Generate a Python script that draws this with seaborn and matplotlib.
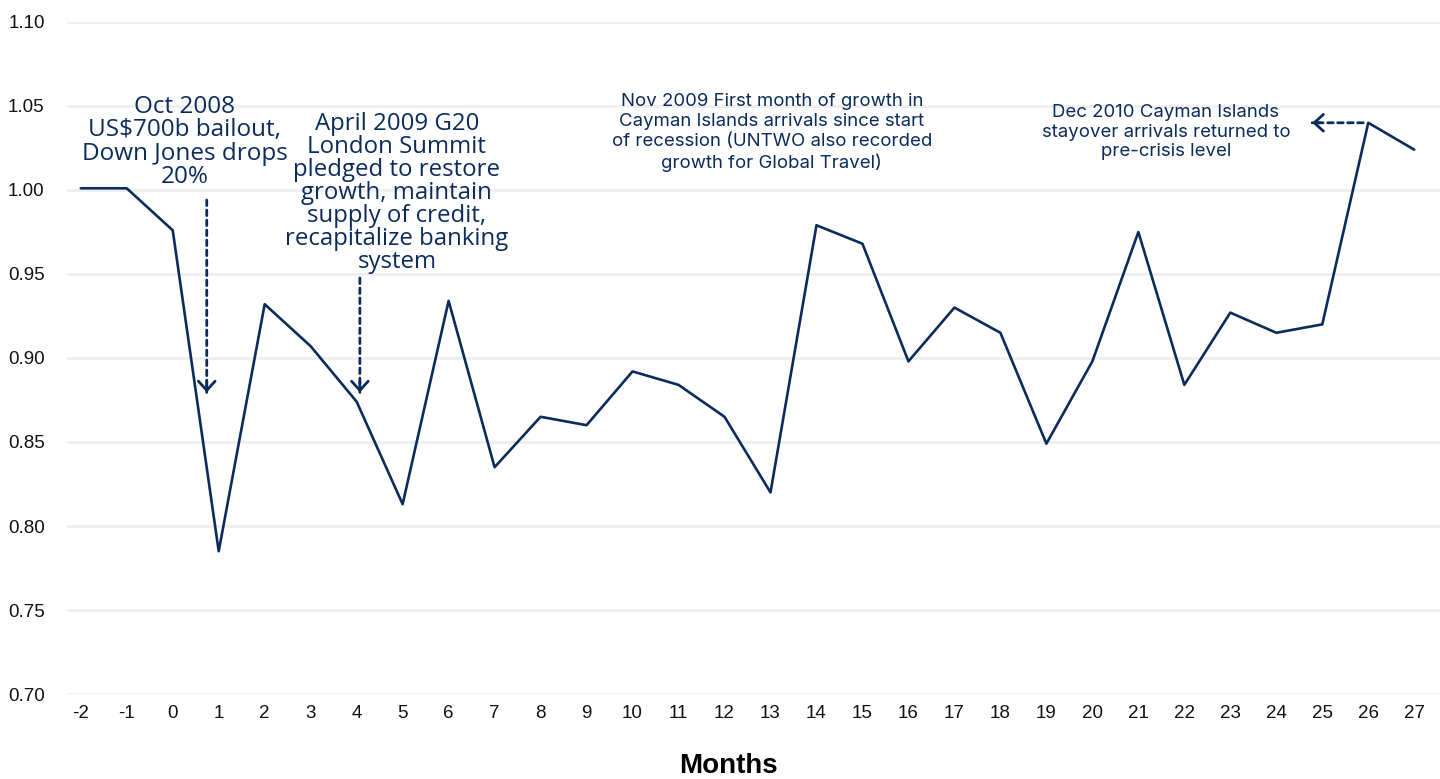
import matplotlib
matplotlib.use("Agg")
import matplotlib.pyplot as plt
import seaborn as sns
import pandas as pd

# Monthly stayover arrivals index relative to pre-crisis level
months = list(range(-2, 28))
index_values = [1.001, 1.001, 0.976, 0.785, 0.932, 0.907, 0.874, 0.813, 0.934, 0.835,
                0.865, 0.860, 0.892, 0.884, 0.865, 0.820, 0.979, 0.968, 0.898, 0.930,
                0.915, 0.849, 0.898, 0.975, 0.884, 0.927, 0.915, 0.920, 1.040, 1.024]

y_ticks = [0.70, 0.75, 0.80, 0.85, 0.90, 0.95, 1.00, 1.05, 1.10]

note_oct_2008 = "Oct 2008\nUS$700b bailout,\nDown Jones drops\n20%"
note_apr_2009 = ("April 2009 G20\nLondon Summit\npledged to restore\ngrowth, maintain\n"
                 "supply of credit,\nrecapitalize banking\nsystem")
note_nov_2009 = ("Nov 2009 First month of growth in\nCayman Islands arrivals since start\n"
                 "of recession (UNTWO also recorded\ngrowth for Global Travel)")
note_dec_2010 = "Dec 2010 Cayman Islands\nstayover arrivals returned to\npre-crisis level"

NAVY = "#0b2c5b"
GRID = "#efefef"

sns.set_theme(style="white")
plt.rcParams["font.family"] = ["Liberation Sans", "DejaVu Sans"]

df = pd.DataFrame({"month": months, "index": index_values})

fig = plt.figure(figsize=(14.4, 7.79), dpi=100)
ax = fig.add_axes([0.0465, 0.1091, 0.9535, 0.8627])

sns.lineplot(data=df, x="month", y="index", ax=ax, color=NAVY, linewidth=1.9)

ax.set_xlim(-2.3, 27.56)
ax.set_ylim(0.70, 1.10)
ax.set_yticks(y_ticks)
ax.set_yticklabels([f"{v:.2f}" for v in y_ticks])
ax.set_xticks(months)
ax.set_xticklabels([str(m) for m in months])

ax.grid(axis="y", color=GRID, linewidth=2.0)
ax.grid(axis="x", visible=False)
ax.set_axisbelow(True)
for s in ax.spines.values():
    s.set_visible(False)
ax.tick_params(axis="both", length=0, labelsize=13.5, colors="#111111")
ax.tick_params(axis="y", pad=16)
ax.tick_params(axis="x", pad=8)

ax.set_ylabel("")
ax.set_xlabel("")
fig.text(0.506, 0.0, "Months", ha="center", va="bottom", fontsize=20,
         fontweight="bold", color="#000000")

note_font = ["Open Sans", "DejaVu Sans"]
small_font = ["Inter", "Open Sans", "DejaVu Sans"]

ax.text(0.262, 1.0286, note_oct_2008, ha="center", va="center", fontsize=17.5,
        color=NAVY, family=note_font, linespacing=0.96)
ax.text(4.874, 0.9982, note_apr_2009, ha="center", va="center", fontsize=17.3,
        color=NAVY, family=note_font, linespacing=0.95)
ax.text(13.03, 1.0342, note_nov_2009, ha="center", va="center", fontsize=13.4,
        color=NAVY, family=small_font, linespacing=1.22)
ax.text(21.60, 1.0345, note_dec_2010, ha="center", va="center", fontsize=13.4,
        color=NAVY, family=small_font, linespacing=1.22)


def dotted_arrow(start, tip, head_from):
    # dotted shaft
    ax.annotate("", xy=tip, xytext=start,
                arrowprops=dict(arrowstyle="-", color=NAVY, lw=2.0,
                                linestyle=(0, (2.0, 1.6)), shrinkA=0, shrinkB=0))
    # solid open arrowhead
    ax.annotate("", xy=tip, xytext=head_from,
                arrowprops=dict(arrowstyle="->,head_length=0.55,head_width=0.5",
                                color=NAVY, lw=2.0, shrinkA=0, shrinkB=0))


dotted_arrow((0.74, 0.994), (0.74, 0.8795), (0.74, 0.886))
dotted_arrow((4.07, 0.9476), (4.07, 0.8795), (4.07, 0.886))
dotted_arrow((25.89, 1.040), (24.78, 1.040), (24.95, 1.040))

fig.savefig("out.png", dpi=100)
